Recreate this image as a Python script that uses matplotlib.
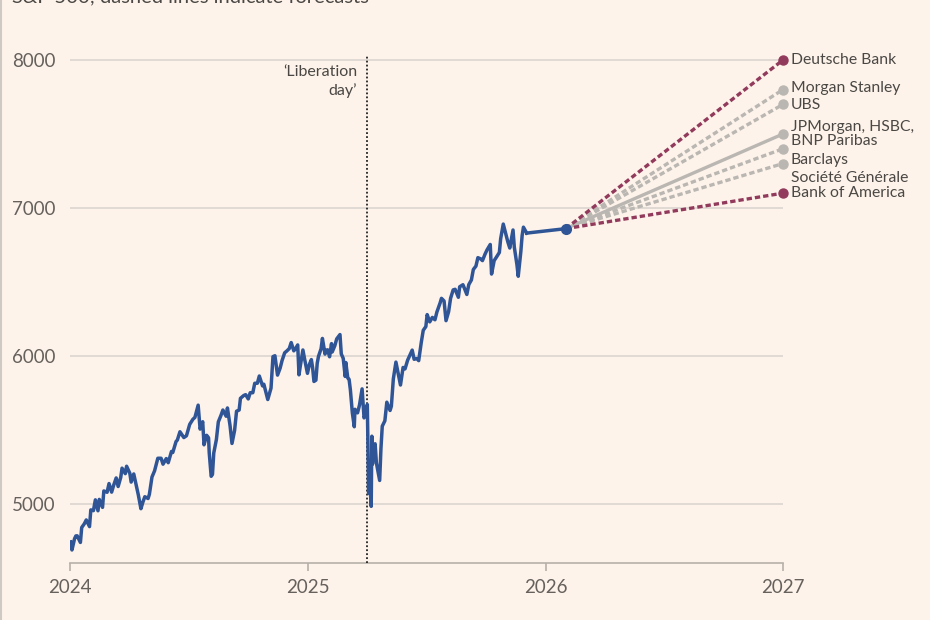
import matplotlib
matplotlib.use("Agg")
import matplotlib.pyplot as plt
import matplotlib.transforms as mtransforms
import pandas as pd

plt.rcParams['font.family'] = ['Lato', 'DejaVu Sans']

# --- data -------------------------------------------------------------
sp_dates = [
    "2024-01-02","2024-01-04","2024-01-08","2024-01-10","2024-01-12","2024-01-17","2024-01-19","2024-01-23",
    "2024-01-26","2024-01-31","2024-02-02","2024-02-06","2024-02-09","2024-02-13","2024-02-15","2024-02-20",
    "2024-02-22","2024-02-27","2024-03-01","2024-03-05","2024-03-08","2024-03-12","2024-03-15","2024-03-19",
    "2024-03-21","2024-03-26","2024-03-28","2024-04-02","2024-04-04","2024-04-08","2024-04-10","2024-04-12",
    "2024-04-15","2024-04-19","2024-04-22","2024-04-25","2024-04-30","2024-05-02","2024-05-06","2024-05-10",
    "2024-05-15","2024-05-20","2024-05-23","2024-05-28","2024-05-31","2024-06-05","2024-06-07","2024-06-12",
    "2024-06-14","2024-06-18","2024-06-24","2024-06-28","2024-07-03","2024-07-08","2024-07-11","2024-07-16",
    "2024-07-19","2024-07-23","2024-07-25","2024-07-29","2024-08-01","2024-08-02","2024-08-05","2024-08-07",
    "2024-08-09","2024-08-13","2024-08-16","2024-08-20","2024-08-23","2024-08-28","2024-08-30","2024-09-03",
    "2024-09-06","2024-09-10","2024-09-13","2024-09-17","2024-09-19","2024-09-24","2024-09-27","2024-10-01",
    "2024-10-04","2024-10-08","2024-10-11","2024-10-15","2024-10-18","2024-10-23","2024-10-25","2024-10-31",
    "2024-11-05","2024-11-08","2024-11-11","2024-11-15","2024-11-19","2024-11-22","2024-11-26","2024-11-29",
    "2024-12-03","2024-12-06","2024-12-10","2024-12-13","2024-12-16","2024-12-18","2024-12-20","2024-12-24",
    "2024-12-27","2024-12-31",
    "2025-01-03","2025-01-06","2025-01-08","2025-01-10","2025-01-13","2025-01-15","2025-01-17","2025-01-21",
    "2025-01-23","2025-01-27","2025-01-29","2025-01-31","2025-02-03","2025-02-06","2025-02-07","2025-02-11",
    "2025-02-14","2025-02-19","2025-02-21","2025-02-24","2025-02-27","2025-02-28","2025-03-03","2025-03-05",
    "2025-03-07","2025-03-10","2025-03-13","2025-03-14","2025-03-18","2025-03-21","2025-03-25","2025-03-28",
    "2025-03-31","2025-04-02","2025-04-03","2025-04-04","2025-04-07","2025-04-08","2025-04-09","2025-04-10",
    "2025-04-11","2025-04-14","2025-04-16","2025-04-21","2025-04-23","2025-04-25","2025-04-29","2025-05-02",
    "2025-05-07","2025-05-09","2025-05-12","2025-05-16","2025-05-21","2025-05-23","2025-05-27","2025-05-30",
    "2025-06-03","2025-06-06","2025-06-10","2025-06-13","2025-06-17","2025-06-20","2025-06-24","2025-06-27",
    "2025-07-01","2025-07-03","2025-07-07","2025-07-11","2025-07-15","2025-07-18","2025-07-23","2025-07-25",
    "2025-07-29","2025-08-01","2025-08-05","2025-08-08","2025-08-12","2025-08-15","2025-08-20","2025-08-22",
    "2025-08-27","2025-08-29","2025-09-02","2025-09-05","2025-09-09","2025-09-12","2025-09-16","2025-09-19",
    "2025-09-23","2025-09-26","2025-09-30","2025-10-03","2025-10-08","2025-10-10","2025-10-14","2025-10-17",
    "2025-10-22","2025-10-24","2025-10-28","2025-10-31","2025-11-04","2025-11-07","2025-11-12","2025-11-14",
    "2025-11-18","2025-11-20","2025-11-24","2025-11-26","2025-11-28","2025-12-03",
]
sp_values = [
    4743,4688,4764,4783,4784,4739,4840,4865,
    4891,4846,4959,4954,5027,4953,5030,4976,
    5087,5078,5137,5079,5124,5175,5117,5179,
    5241,5204,5254,5206,5147,5202,5161,5123,
    5061,4967,5011,5048,5036,5064,5181,5223,
    5308,5308,5268,5306,5278,5354,5347,5421,
    5431,5487,5448,5460,5537,5572,5584,5667,
    5505,5555,5399,5463,5446,5346,5186,5199,
    5344,5434,5554,5597,5634,5592,5648,5529,
    5408,5496,5626,5634,5713,5732,5738,5709,
    5751,5751,5815,5815,5864,5797,5808,5705,
    5782,5995,6001,5870,5917,5969,6021,6032,
    6049,6090,6034,6051,6074,5872,5931,6040,
    5970,5882,
    5942,5975,5918,5827,5836,5950,5997,6049,
    6118,6012,6039,6041,5994,6083,6026,6068,
    6115,6144,6013,5983,5861,5955,5850,5842,
    5770,5615,5521,5639,5615,5668,5777,5581,
    5612,5671,5397,5074,5062,4983,5457,5268,
    5363,5406,5276,5158,5376,5525,5561,5687,
    5631,5660,5844,5958,5845,5803,5922,5912,
    5971,6000,6039,5977,5982,5968,6092,6173,
    6198,6279,6230,6260,6244,6297,6359,6389,
    6371,6238,6299,6389,6446,6450,6396,6467,
    6481,6460,6415,6482,6513,6584,6607,6664,
    6656,6644,6688,6716,6753,6553,6644,6664,
    6699,6792,6891,6840,6771,6729,6851,6734,
    6617,6538,6705,6813,6870,6830,
]
current_date = "2026-02-01"
current_value = 6860
target_date = "2027-01-01"

banks = ["Deutsche Bank", "Morgan Stanley", "UBS", "JPMorgan, HSBC,\nBNP Paribas",
         "Barclays", "Société Générale", "Bank of America"]
targets = [8000, 7800, 7700, 7500, 7400, 7300, 7100]
label_offsets_px = [0, -2, 1, 0, 11, 14, 0]   # label nudges downward (pixels)

liberation_day = "2025-04-02"
y_ticks = [5000, 6000, 7000, 8000]
x_ticks = ["2024-01-01", "2025-01-01", "2026-01-01", "2027-01-01"]
x_ticklabels = ["2024", "2025", "2026", "2027"]

# --- styles -----------------------------------------------------------
BG = "#fdf3ea"
BLUE = "#2f5597"
MAROON = "#923a5c"
GREY = "#bab6b1"
GRID = "#dcd6d0"
TEXT = "#4a4744"
TICKTXT = "#66615d"
DASH = (0, (1.6, 0.9))

fig = plt.figure(figsize=(9.3, 6.2), dpi=100, facecolor=BG)
ax = fig.add_axes([70/930, 57/620, 713/930, 510.4/620], facecolor=BG)

d = pd.to_datetime(sp_dates)
cd = pd.to_datetime(current_date)
td = pd.to_datetime(target_date)

# forecasts
styles = {
    "Deutsche Bank": (MAROON, DASH),
    "Bank of America": (MAROON, DASH),
    "JPMorgan, HSBC,\nBNP Paribas": (GREY, "-"),
}
order = [1, 2, 4, 5, 3, 0, 6]
for i in order:
    b = banks[i]
    col, ls = styles.get(b, (GREY, DASH))
    ax.plot([cd, td], [current_value, targets[i]], color=col, lw=2.4,
            ls=ls, zorder=3 if col == MAROON else 2, solid_capstyle="butt",
            dash_capstyle="butt")
    ax.plot([td], [targets[i]], "o", color=col, ms=6.5, zorder=4, clip_on=False)
    trans = mtransforms.offset_copy(ax.transData, fig=fig, x=8,
                                    y=-label_offsets_px[i], units="dots")
    ax.text(td, targets[i], b, transform=trans, ha="left", va="center",
            fontsize=11.3, color=TEXT, linespacing=1.0, clip_on=False)

# index line
ax.plot(d, sp_values, color=BLUE, lw=2.5, zorder=5, solid_joinstyle="round")
ax.plot([d[-1], cd], [sp_values[-1], current_value], color=BLUE, lw=2.5, zorder=5)
ax.plot([cd], [current_value], "o", color=BLUE, ms=7, zorder=6)

# liberation day
ld = pd.to_datetime(liberation_day)
ax.axvline(ld, ymin=0, ymax=(8035 - 4600) / (8050 - 4600), color="#222222",
           lw=1.3, ls=(0, (1, 1.2)), zorder=4)
ax.annotate("\u2018Liberation\nday\u2019", xy=(ld, 8000), xytext=(-10, -5),
            textcoords="offset pixels", ha="right", va="top", fontsize=11.5,
            color=TEXT, linespacing=1.35)

# axes
ax.set_xlim(pd.to_datetime("2024-01-01"), td)
ax.set_ylim(4600, 8050)
ax.set_yticks(y_ticks)
ax.set_yticklabels([str(v) for v in y_ticks])
ax.yaxis.grid(True, color=GRID, lw=1.2)
ax.set_axisbelow(True)
ax.tick_params(axis="y", length=0, pad=41.8, labelsize=13.5, labelcolor=TICKTXT)
for lab in ax.get_yticklabels():
    lab.set_horizontalalignment("left")
ax.set_xticks(pd.to_datetime(x_ticks))
ax.set_xticklabels(x_ticklabels)
ax.tick_params(axis="x", length=5.5, width=1.2, color="#b5b0aa", pad=6,
               labelsize=13.5, labelcolor=TICKTXT)
for s in ["top", "right", "left"]:
    ax.spines[s].set_visible(False)
ax.spines["bottom"].set_color("#b5b0aa")
ax.spines["bottom"].set_linewidth(1.2)

# cropped subtitle
fig.text(12/930, 1 - 2.5/620, "S&P 500; dashed lines indicate forecasts", ha="left",
         va="baseline", fontsize=14.5, color=TEXT)
# left border
fig.add_artist(plt.Line2D([1/930, 1/930], [0, 1], color="#cfc9c3", lw=1.5,
                          transform=fig.transFigure))

fig.savefig("out.png", dpi=100, facecolor=BG)
